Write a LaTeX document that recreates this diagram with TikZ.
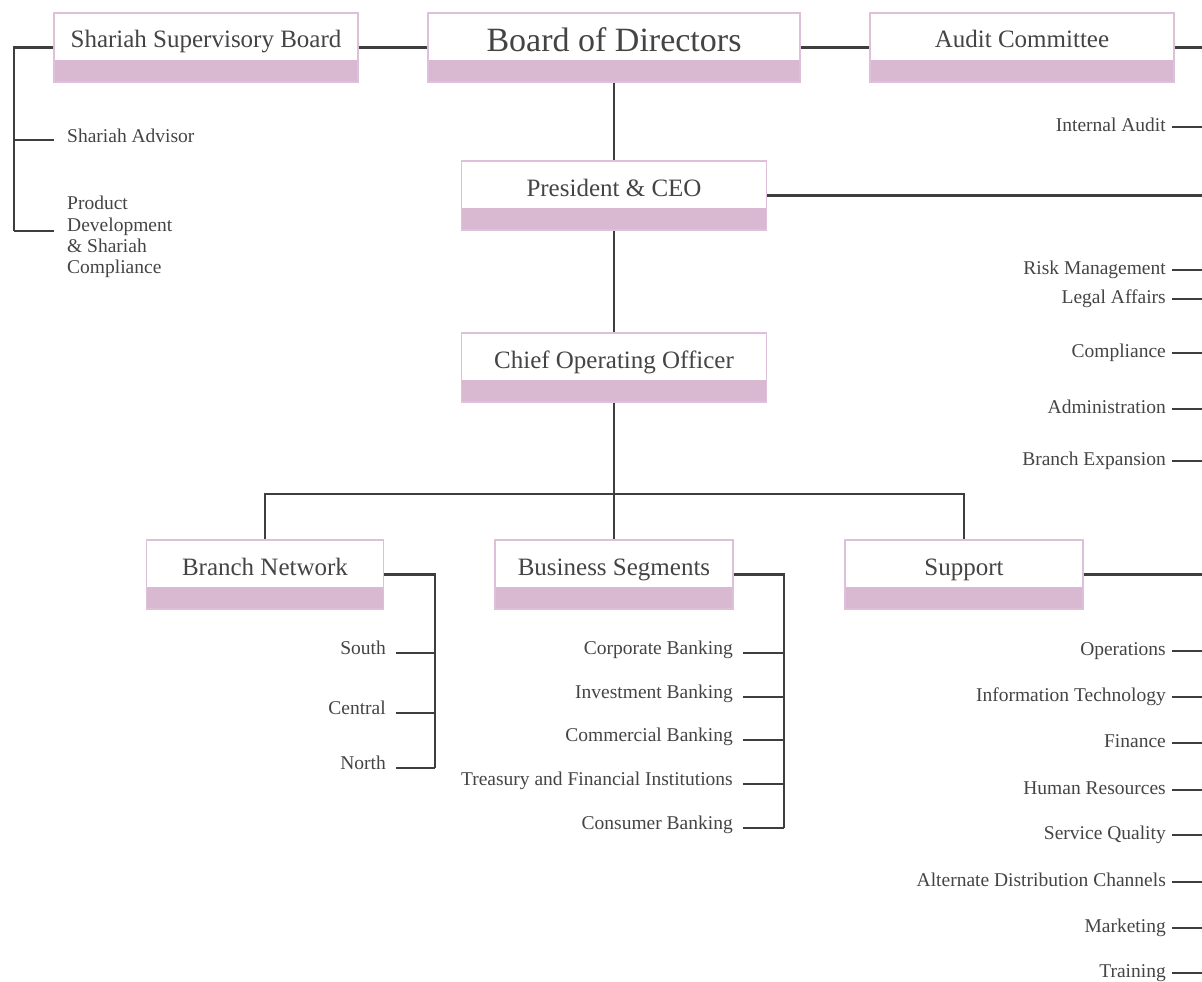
\documentclass[tikz,border=0pt]{standalone}
\usepackage{fontspec}
\setmainfont{Liberation Serif}
\usetikzlibrary{positioning}
\definecolor{orgPink}{RGB}{217,184,210}
\definecolor{orgPinkLine}{RGB}{223,192,219}
\definecolor{orgText}{RGB}{68,68,68}
\definecolor{orgGray}{RGB}{62,62,62}
\tikzset{
   orgBox/.style = {
         rectangle,
         draw = orgPinkLine,
         fill = white,
         line width = 1.5pt,
         align = center,
         inner xsep = 0pt,
         inner ysep = 0pt,
         text height = 35pt,
         text depth = 34pt,
         minimum width = 304pt,
         text = orgText,
         font = \fontsize{25}{28}\selectfont,
         % pink bar along the lower edge
         path picture = {
            \fill [orgPink] (path picture bounding box.south west)
               rectangle ([yshift=22pt]path picture bounding box.east |- path picture bounding box.south);
         },
      },
   orgHead/.style = {
         orgBox,
         minimum width = 372pt,
         text height = 38.5pt,
         text depth = 30.5pt,
         font = \fontsize{34}{38}\selectfont,
      },
   orgUnit/.style = {
         orgBox,
         minimum width = 238pt,
      },
   orgItem/.style = {
         anchor = east,
         inner xsep = 10pt,
         inner ysep = 0pt,
         text height = 9pt,
         text depth = 7pt,
         text = orgText,
         font = \fontsize{19.5}{21.3}\selectfont,
      },
   orgItemRight/.style = {
         orgItem,
         inner xsep = 6pt,
         text height = 12pt,
         text depth = 4pt,
      },
   orgItemLeft/.style = {
         orgItem,
         anchor = west,
         inner xsep = 13pt,
         text height = 10pt,
         text depth = 6pt,
      },
   orgLine/.style = {
         draw,
         orgGray,
         line width = 2.1pt,
      },
}

\begin{document}
\begin{tikzpicture}[x=1pt, y=1pt, node distance = 100pt]

\useasboundingbox (0,0) rectangle (1202,-982);

% Place nodes
\node [orgHead] at (614,-47.5) (board){Board of Directors};
\node [orgBox, left of =board, xshift=-308pt]
	(shariah){Shariah Supervisory Board};
\node [orgBox, right of =board, xshift=308pt]
	(audit){Audit Committee};
\node [orgBox, minimum width=305pt, below of =board, yshift=-48pt]
	(president){President \& CEO};
\node [orgBox, minimum width=305pt, below of =president, yshift=-72pt]
	(coo){Chief Operating Officer};

\node [orgUnit, below of =coo, yshift=-107pt]
	(business){Business Segments};
\node [orgUnit, minimum width=237pt, left of =business, xshift=-249pt]
	(branch){Branch Network};
\node [orgUnit, right of =business, xshift=250pt]
	(support){Support};

% Shariah board units
\node [orgItemLeft] at (54,-140) (advisor){Shariah Advisor};
\node [orgItemLeft, align=left, text height=, text depth=] at (54,-237)
	(prod-dev){Product\\Development\\\& Shariah\\Compliance};

% Units on the right hand side
\node [orgItemRight] at (1172,-127) (internal-audit){Internal Audit};
\node [orgItemRight] at (1172,-270) (risk){Risk Management};
\node [orgItemRight] at (1172,-299) (legal){Legal Affairs};
\node [orgItemRight] at (1172,-353) (compliance){Compliance};
\node [orgItemRight] at (1172,-409) (admin){Administration};
\node [orgItemRight] at (1172,-461) (expansion){Branch Expansion};

\node [orgItemRight] at (1172,-651) (operations){Operations};
\node [orgItemRight] at (1172,-697) (it){Information Technology};
\node [orgItemRight] at (1172,-743) (finance){Finance};
\node [orgItemRight] at (1172,-790) (hr){Human Resources};
\node [orgItemRight] at (1172,-835) (quality){Service Quality};
\node [orgItemRight] at (1172,-882) (adc){Alternate Distribution Channels};
\node [orgItemRight] at (1172,-928) (marketing){Marketing};
\node [orgItemRight] at (1172,-973) (training){Training};

% Branch network
\node [orgItem] at (396,-653) (south){South};
\node [orgItem] at (396,-713) (central){Central};
\node [orgItem] at (396,-768) (north){North};

% Business segments
\node [orgItem] at (743,-653) (corporate){Corporate Banking};
\node [orgItem] at (743,-697) (investment){Investment Banking};
\node [orgItem] at (743,-740) (commercial){Commercial Banking};
\node [orgItem] at (743,-784) (treasury){Treasury and Financial Institutions};
\node [orgItem] at (743,-828) (consumer){Consumer Banking};


% Place joins
\coordinate (right-edge) at (1202,0);
\coordinate (shariah-bus) at (14,-231);
\coordinate [below of =coo, yshift=-26.5pt] (split);
\coordinate (branch-bus) at (435,-768);
\coordinate (business-bus) at (784,-828);


% Draw edges
\path [orgLine] (shariah) -- (board);
\path [orgLine] (board) -- (audit);
\path [orgLine] (audit) -- (audit -| right-edge);
\path [orgLine] (board) -- (president);
\path [orgLine] (president) -- (president -| right-edge);
\path [orgLine] (president) -- (coo);

\path [orgLine] (shariah) -| (shariah-bus);
\path [orgLine] (advisor) -- (advisor -| shariah-bus);
\path [orgLine] (shariah-bus) -- (shariah-bus -| prod-dev.west);

\path [orgLine] (coo) -- (split);
\path [orgLine] (split) -| (branch);
\path [orgLine] (split) -- (business);
\path [orgLine] (split) -| (support);

\path [orgLine] (branch) -| (branch-bus);
\path [orgLine] (south) -- (south -| branch-bus);
\path [orgLine] (central) -- (central -| branch-bus);
\path [orgLine] (north) -- (north -| branch-bus);

\path [orgLine] (business) -| (business-bus);
\path [orgLine] (corporate) -- (corporate -| business-bus);
\path [orgLine] (investment) -- (investment -| business-bus);
\path [orgLine] (commercial) -- (commercial -| business-bus);
\path [orgLine] (treasury) -- (treasury -| business-bus);
\path [orgLine] (consumer) -- (consumer -| business-bus);

\path [orgLine] (support) -- (support -| right-edge);

\path [orgLine] (internal-audit) -- (internal-audit -| right-edge);
\path [orgLine] (risk) -- (risk -| right-edge);
\path [orgLine] (legal) -- (legal -| right-edge);
\path [orgLine] (compliance) -- (compliance -| right-edge);
\path [orgLine] (admin) -- (admin -| right-edge);
\path [orgLine] (expansion) -- (expansion -| right-edge);
\path [orgLine] (operations) -- (operations -| right-edge);
\path [orgLine] (it) -- (it -| right-edge);
\path [orgLine] (finance) -- (finance -| right-edge);
\path [orgLine] (hr) -- (hr -| right-edge);
\path [orgLine] (quality) -- (quality -| right-edge);
\path [orgLine] (adc) -- (adc -| right-edge);
\path [orgLine] (marketing) -- (marketing -| right-edge);
\path [orgLine] (training) -- (training -| right-edge);

\end{tikzpicture}
\end{document}
